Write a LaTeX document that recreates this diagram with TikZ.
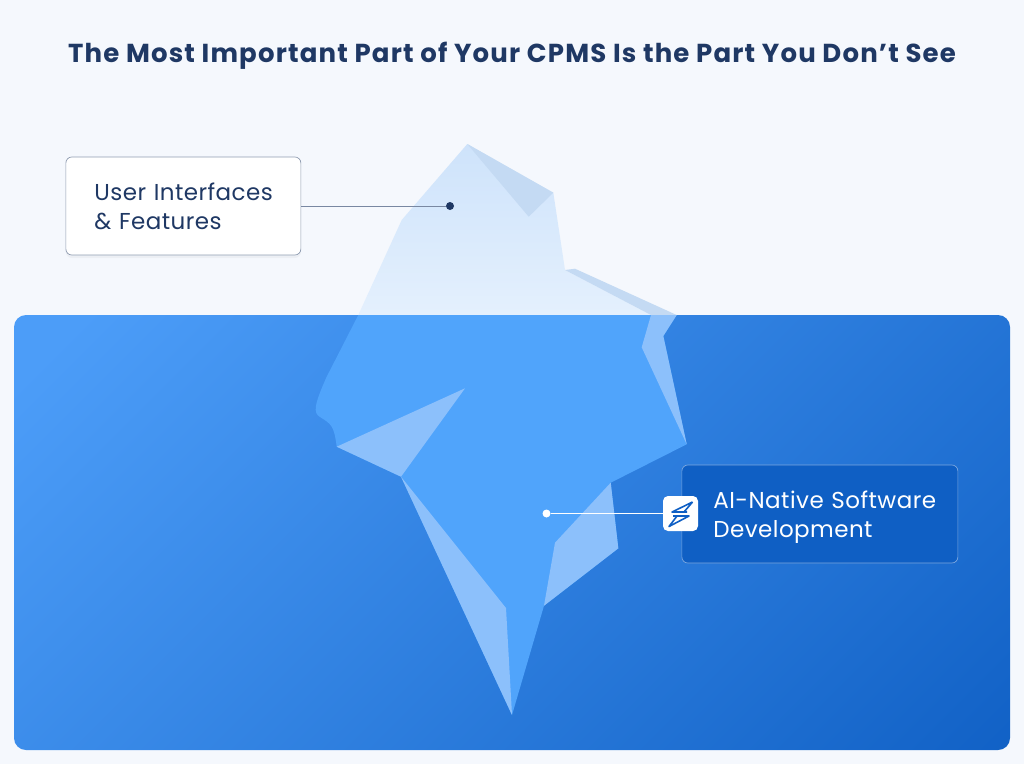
\documentclass[tikz,border=0pt]{standalone}
\usepackage{fontspec}
\setmainfont{Poppins}
\usepackage{tikz}
\usetikzlibrary{positioning, calc, shadows}

\definecolor{pagebg}{HTML}{F5F8FD}
\definecolor{navy}{HTML}{1F3864}
\definecolor{waterlight}{HTML}{4C9DF8}
\definecolor{waterdark}{HTML}{0F5FC4}
\definecolor{icemain}{HTML}{50A4FB}
\definecolor{icefacet}{HTML}{8CC0FB}
\definecolor{iceshade}{HTML}{C4DAF3}
\definecolor{icetop}{HTML}{CEE3FB}
\definecolor{icelow}{HTML}{E4F0FD}
\definecolor{aibox}{HTML}{0F5FC4}

\pgfdeclareverticalshading{waterfade}{100bp}{color(0bp)=(waterdark); color(12bp)=(waterdark); color(82bp)=(waterlight); color(100bp)=(waterlight)}

\begin{document}
\begin{tikzpicture}[
    x=1pt, y=-1pt,
    callout/.style={rectangle, rounded corners=6pt, align=left, anchor=west,
        font=\fontsize{23}{29}\selectfont\addfontfeature{LetterSpace=2},
        minimum width=235pt, minimum height=98pt, inner xsep=28.5pt, text width=178pt},
    dot/.style={circle, inner sep=0pt, minimum size=8pt},
    facet/.style={fill=icefacet},
    shadefacet/.style={fill=iceshade},
    wire/.style={line width=1pt},
]

% Background
\fill[pagebg] (0,0) rectangle (1024,764);
\useasboundingbox (0,0) rectangle (1024,764);

% Title
\node[font=\fontsize{26}{30}\selectfont\bfseries\addfontfeature{LetterSpace=4.5}, navy] (title) at (512,55.5) {The Most Important Part of Your CPMS Is the Part You Don’t See};

% ========== WATER ==========
\shade[rounded corners=12pt, shading=waterfade, shading angle=45]
    (14,315) rectangle (1010,750);

% ========== ICEBERG ==========
% Above the water
\shade[top color=icetop, bottom color=icelow]
    (358.3,315) -- (401.7,220) -- (467.3,144) -- (553.3,192.7) -- (565,270) -- (651,315) -- cycle;
\fill[shadefacet] (467.3,144) -- (553.3,192.7) -- (528.7,216.7) -- cycle;
\fill[shadefacet] (565,270) -- (575,268.7) -- (676.7,315) -- (651,315) -- cycle;

% Below the water
\fill[icemain] (358.3,315) -- (676.7,315) -- (663.3,336) -- (686.7,444.3) -- (610.7,482.7)
    -- (618.3,548.3) -- (544,605.7) -- (512,715) -- (401,476.7) -- (336.7,446.7)
    .. controls (334,425) and (331,424) .. (320,417)
    .. controls (313,413) and (314,405) .. (326.7,376.7) -- cycle;
\fill[facet] (651,315) -- (676.7,315) -- (663.3,336) -- (686.7,444.3) -- (641.7,347.3) -- cycle;
\fill[facet] (336.7,446.7) -- (465,388.3) -- (401,476.7) -- cycle;
\fill[facet] (401,476.7) -- (506,608) -- (512,715) -- cycle;
\fill[facet] (610.7,482.7) -- (618.3,548.3) -- (544,605.7) -- (555,542.7) -- cycle;

% ========== CALLOUTS ==========
% Upper callout
\node[callout, fill=white, draw=navy!50, line width=0.7pt, text=navy,
    drop shadow={opacity=0.07, shadow xshift=0pt, shadow yshift=-3pt}] (ui_box) at (65.5,206) {\raisebox{-1pt}{User Interfaces}\\\raisebox{-1pt}{\& Features}};
\node[dot, fill=navy] (ui_dot) at (450,206) {};
\draw[wire, navy!60] (ui_box) -- (ui_dot);

% Lower callout
\node[callout, fill=aibox, draw=white!45!aibox, line width=0.7pt, text=white, minimum width=276pt, inner xsep=31.5pt, text width=213pt] (ai_box) at (681.5,514) {\rule{0pt}{24pt}\mbox{AI-Native Software}\\\mbox{Development}};
\node[dot, fill=white] (ai_dot) at (546.5,513.5) {};
\node[rectangle, rounded corners=5pt, fill=white, minimum size=35pt, inner sep=0pt] (ai_icon) at (680.5,513.5) {};
\draw[wire, white] (ai_dot) -- (ai_icon);

% Bolt
\draw[aibox, line width=1.6pt, line join=round] (692.5,502) -- (672,512) -- (687,512) (692.5,502) -- (684,512);
\draw[aibox, line width=1.6pt, line join=round] (673,516) -- (689,516) -- (669,526.5) -- (677,516);

\end{tikzpicture}
\end{document}
